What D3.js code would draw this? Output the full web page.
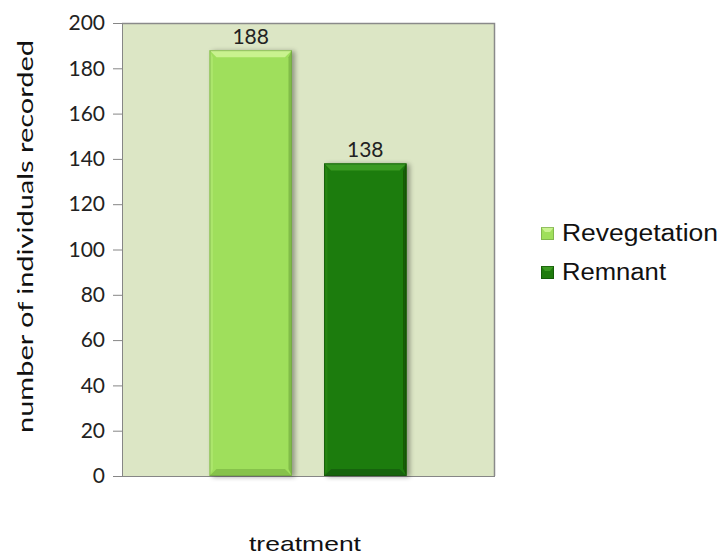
<!DOCTYPE html>
<html><head><meta charset="utf-8">
<script src="https://cdn.jsdelivr.net/npm/d3@7"></script>
<style>body{margin:0;background:#fff}svg{display:block}</style>
</head><body>
<svg id="chart" width="724" height="557"></svg>
<script>
const categories = ["treatment"];
const seriesNames = ["Revegetation", "Remnant"];
const seriesValues = [188, 138];
const yTicks = [0, 20, 40, 60, 80, 100, 120, 140, 160, 180, 200];
const yTitle = "number of individuals recorded";
const xTitle = "treatment";

const colors = {
  Revegetation: {base:"#9fdf5b", top:"#c9f28f", bottom:"#86c24b", left:"#b0e874", right:"#79b343", edge:"#6f9e44"},
  Remnant:      {base:"#1f7b0d", top:"#3b9a22", bottom:"#18640a", left:"#2a8a16", right:"#115506", edge:"#0f4a05"}
};

const svg = d3.select("#chart");
const m = {left:122, top:23, right:494, bottom:476};

const y = d3.scaleLinear().domain([0, 200]).range([m.bottom, m.top]);
const x0 = d3.scaleBand().domain(categories).range([m.left, m.right]).paddingOuter(0.444);
const x1 = d3.scaleBand().domain(seriesNames).range([0, x0.bandwidth()]).paddingInner(0.28);

// plot background
svg.append("rect").attr("x", m.left).attr("y", m.top)
  .attr("width", m.right - m.left).attr("height", m.bottom - m.top)
  .attr("fill", "#dce6c5");
// top & right border
svg.append("path").attr("d", `M${m.left},${m.top+0.5}H${m.right+0.5}V${m.bottom}`)
  .attr("fill","none").attr("stroke","#8a8a8a").attr("stroke-width",1.5);

// y axis
const yAxis = d3.axisLeft(y).tickValues(yTicks).tickSize(9).tickPadding(8);
const gy = svg.append("g").attr("transform", `translate(${m.left},0)`).call(yAxis);
gy.select(".domain").attr("stroke","#868686");
gy.selectAll(".tick line").attr("stroke","#868686");
gy.selectAll(".tick text").attr("font-family","Lato, 'Open Sans', sans-serif")
  .attr("font-size", 21).attr("fill","#222");

// x baseline
svg.append("line").attr("x1", m.left - 9).attr("x2", m.right + 1)
  .attr("y1", m.bottom + 0.5).attr("y2", m.bottom + 0.5)
  .attr("stroke","#868686").attr("stroke-width",1.2);

// bars
const defs = svg.append("defs");
const f = defs.append("filter").attr("id","sh").attr("x","-20%").attr("y","-10%").attr("width","150%").attr("height","130%");
f.append("feGaussianBlur").attr("in","SourceAlpha").attr("stdDeviation",2.5);
f.append("feOffset").attr("dx",3).attr("dy",1).attr("result","b");
f.append("feComponentTransfer").append("feFuncA").attr("type","linear").attr("slope",0.35);
const fm = f.append("feMerge"); fm.append("feMergeNode"); fm.append("feMergeNode").attr("in","SourceGraphic");

const bars = svg.append("g");
seriesNames.forEach((s, i) => {
  const c = colors[s];
  const bx = x0(categories[0]) + x1(s);
  const bw = x1.bandwidth();
  const by = y(seriesValues[i]);
  const bh = y(0) - by;
  const bev = 7;
  const g = bars.append("g").attr("filter","url(#sh)");
  g.append("rect").attr("x",bx).attr("y",by).attr("width",bw).attr("height",bh).attr("fill",c.base);
  g.append("path").attr("d",`M${bx},${by}H${bx+bw}L${bx+bw-bev},${by+bev}H${bx+bev}Z`).attr("fill",c.top);
  g.append("path").attr("d",`M${bx},${by}L${bx+bev*0.5},${by+bev}V${by+bh-bev}L${bx},${by+bh}Z`).attr("fill",c.left).attr("opacity",0.7);
  g.append("path").attr("d",`M${bx+bw},${by}L${bx+bw-bev*0.5},${by+bev}V${by+bh-bev}L${bx+bw},${by+bh}Z`).attr("fill",c.right).attr("opacity",0.8);
  g.append("path").attr("d",`M${bx},${by+bh}H${bx+bw}L${bx+bw-bev},${by+bh-bev}H${bx+bev}Z`).attr("fill",c.bottom);
  g.append("rect").attr("x",bx+0.5).attr("y",by+0.5).attr("width",bw-1).attr("height",bh-1)
    .attr("fill","none").attr("stroke",c.edge).attr("stroke-width",1).attr("opacity",0.6);
  svg.append("text").attr("x", bx + bw/2).attr("y", by - 6)
    .attr("text-anchor","middle").attr("font-family","Lato, 'Open Sans', sans-serif")
    .attr("font-size",21).attr("fill","#222").text(seriesValues[i]);
});

// y title
svg.append("text")
  .attr("transform", `translate(33,${(40+433)/2}) rotate(-90)`)
  .attr("text-anchor","middle").attr("font-family","Lato, 'Open Sans', sans-serif")
  .attr("font-size",22).attr("fill","#111")
  .attr("textLength", 393).attr("lengthAdjust","spacingAndGlyphs").text(yTitle);

// x title
svg.append("text").attr("x", 305).attr("y", 551)
  .attr("text-anchor","middle").attr("font-family","'Liberation Sans', Arial, sans-serif")
  .attr("font-size",21).attr("fill","#111")
  .attr("textLength",112).attr("lengthAdjust","spacingAndGlyphs").text(xTitle);

// legend
const lg = svg.append("g");
const legWidths = [156, 104];
seriesNames.forEach((s, i) => {
  const c = colors[s];
  const ly = 241 + i*39;
  const sq = lg.append("g");
  sq.append("rect").attr("x",541).attr("y",ly-14).attr("width",13).attr("height",13).attr("fill",c.base);
  sq.append("path").attr("d",`M541,${ly-14}h13l-4,5h-5z`).attr("fill",c.top);
  sq.append("rect").attr("x",541.5).attr("y",ly-13.5).attr("width",12).attr("height",12).attr("fill","none").attr("stroke",c.edge).attr("stroke-width",1).attr("opacity",0.6);
  lg.append("text").attr("x",562).attr("y",ly)
    .attr("font-family","'Liberation Sans', Arial, sans-serif").attr("font-size",23).attr("fill","#111")
    .attr("textLength",legWidths[i]).attr("lengthAdjust","spacingAndGlyphs").text(s);
});
</script>
</body></html>
